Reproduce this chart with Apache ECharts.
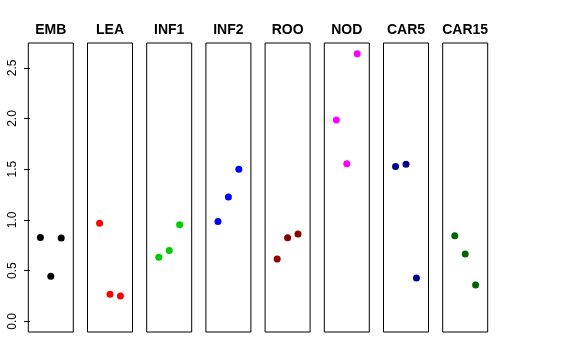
<!DOCTYPE html>
<html>
<head>
<meta charset="utf-8">
<script src="https://cdn.jsdelivr.net/npm/echarts@6/dist/echarts.min.js"></script>
<style>
html,body{margin:0;padding:0;background:#fff;}
#chart{width:576px;height:360px;}
</style>
</head>
<body>
<div id="chart"></div>
<script>
// Panel names (titles)
var categories = ['EMB', 'LEA', 'INF1', 'INF2', 'ROO', 'NOD', 'CAR5', 'CAR15'];
// Three observations per panel, plotted at x = 1, 2, 3
var xPositions = [1, 2, 3];
var emb   = [0.827, 0.445, 0.821];
var lea   = [0.966, 0.267, 0.250];
var inf1  = [0.632, 0.697, 0.953];
var inf2  = [0.983, 1.227, 1.500];
var roo   = [0.615, 0.823, 0.862];
var nod   = [1.985, 1.554, 2.639];
var car5  = [1.527, 1.550, 0.426];
var car15 = [0.844, 0.663, 0.359];
// Y tick labels
var yTicks = [0, 0.5, 1, 1.5, 2, 2.5];

var panelValues = [emb, lea, inf1, inf2, roo, nod, car5, car15];
var colors = ['#000000', '#FF0000', '#00CD00', '#0000FF', '#8B0000', '#FF00FF', '#00008B', '#006400'];

var allVals = [].concat.apply([], panelValues);
var yMaxData = Math.max.apply(null, allVals);
var yMin = 0 - 0.04 * yMaxData;
var yMax = yMaxData + 0.04 * yMaxData;
var xMin = 0 - 0.16, xMax = 4 + 0.16;

var panelLeft0 = 28.3, panelStep = 59.2, panelWidth = 45, panelTop = 43, panelHeight = 289;

var grids = [], xAxes = [], yAxes = [], series = [], graphics = [];
categories.forEach(function (name, i) {
  var left = panelLeft0 + panelStep * i;
  grids.push({
    left: left, top: panelTop, width: panelWidth, height: panelHeight,
    show: true, borderColor: '#000', borderWidth: 1, backgroundColor: 'transparent',
    containLabel: false
  });
  xAxes.push({
    type: 'value', gridIndex: i, min: xMin, max: xMax, show: false
  });
  var ya = {
    type: 'value', gridIndex: i, min: yMin, max: yMax,
    splitLine: { show: false }, axisLine: { show: false },
    axisTick: { show: false }, axisLabel: { show: false }
  };
  if (i === 0) {
    ya.axisTick = { show: true, length: 6, inside: false, customValues: yTicks, lineStyle: { color: '#000', width: 1 } };
    ya.axisLabel = {
      show: true, customValues: yTicks, rotate: 90, margin: 10,
      fontFamily: 'Liberation Sans, Arial, sans-serif', fontSize: 12, color: '#000',
      formatter: function (v) { return Number(v).toFixed(1); }
    };
  }
  yAxes.push(ya);
  series.push({
    type: 'scatter', xAxisIndex: i, yAxisIndex: i,
    symbol: 'circle', symbolSize: 7,
    itemStyle: { color: colors[i], opacity: 1 },
    data: panelValues[i].map(function (v, k) { return [xPositions[k], v]; }),
    silent: true, animation: false
  });
  graphics.push({
    type: 'text', x: left + panelWidth / 2, y: 30,
    style: {
      text: name, textAlign: 'center', textVerticalAlign: 'middle',
      fontFamily: 'Liberation Sans, Arial, sans-serif', fontWeight: 'bold', fontSize: 14, fill: '#000'
    }
  });
});

var chart = echarts.init(document.getElementById('chart'), null, { renderer: 'canvas' });
chart.setOption({
  backgroundColor: '#fff',
  animation: false,
  grid: grids,
  xAxis: xAxes,
  yAxis: yAxes,
  series: series,
  graphic: graphics
});
</script>
</body>
</html>
